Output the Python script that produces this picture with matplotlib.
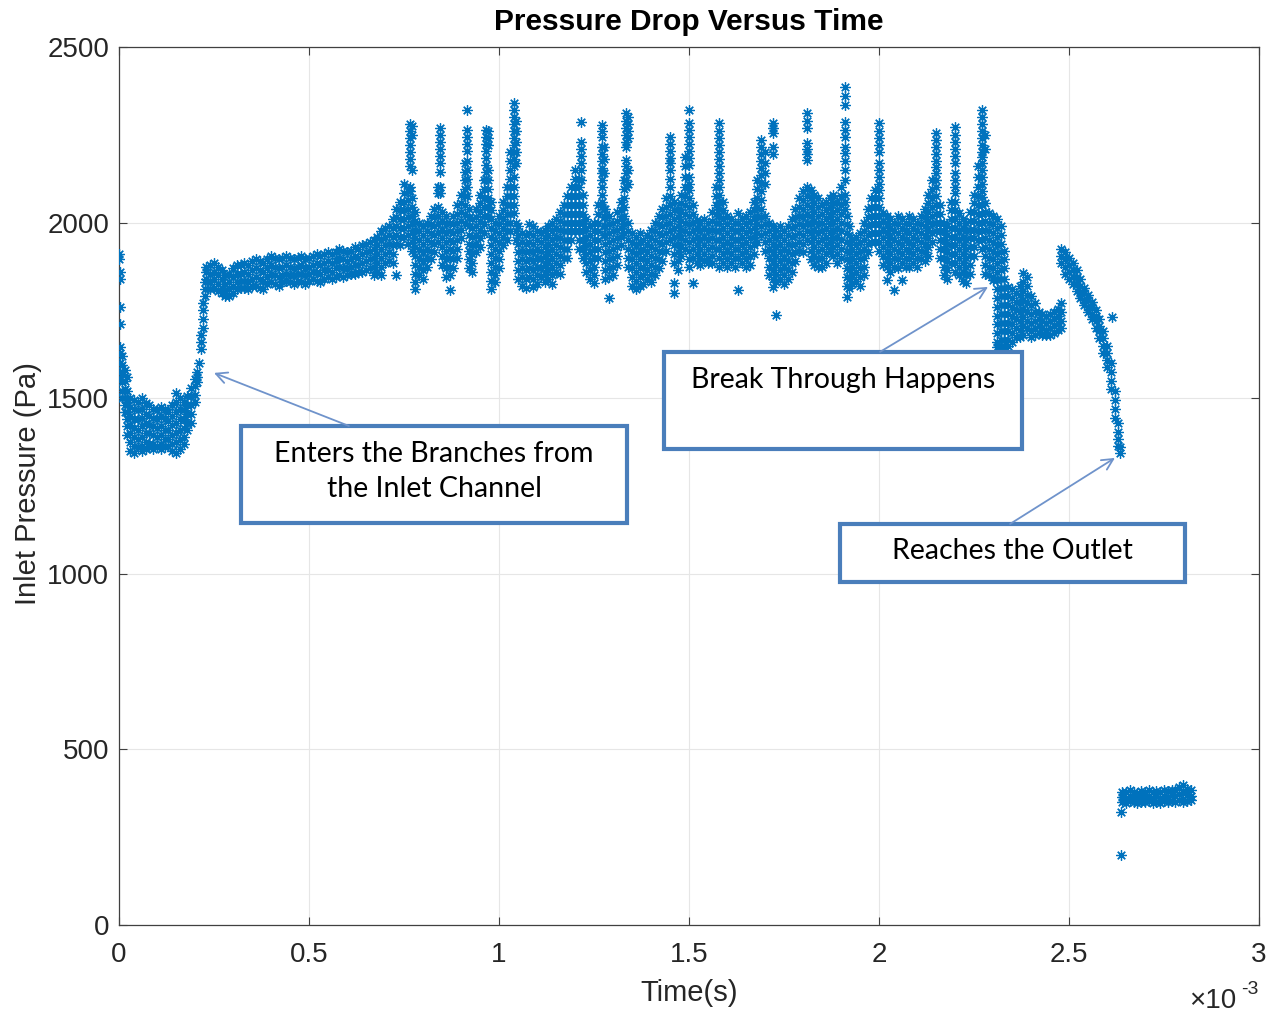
import matplotlib
matplotlib.use("Agg")
import matplotlib.pyplot as plt
from matplotlib.patches import Rectangle

plt.rcParams["font.family"] = ["Liberation Sans", "DejaVu Sans"]

MARK = "#0072BD"
BOX = "#4A7EBB"
ARROW = "#6F93CB"
INK = "#262626"

# time in ms, pressure in Pa; each time column holds the samples read at that time
inlet_t = [0.0, 0.003, 0.008, 0.015, 0.02, 0.03, 0.04, 0.05, 0.06, 0.07, 0.08,
           0.09, 0.10, 0.11, 0.12, 0.13, 0.14, 0.15, 0.16, 0.17, 0.18, 0.19,
           0.20, 0.205, 0.21, 0.215, 0.22, 0.225, 0.23]
inlet_p = [
    [1910, 1895],
    [1860, 1840, 1760, 1710, 1645, 1630, 1600, 1575, 1555],
    [1620, 1595, 1570, 1545, 1520, 1500],
    [1580, 1550, 1525, 1500, 1480, 1460],
    [1560, 1520, 1490, 1460, 1440, 1420, 1395],
    [1500, 1475, 1450, 1425, 1400, 1375, 1350],
    [1495, 1470, 1440, 1415, 1390, 1365, 1345],
    [1490, 1465, 1440, 1410, 1385, 1360],
    [1500, 1470, 1445, 1420, 1390, 1365, 1350],
    [1485, 1455, 1430, 1400, 1375, 1355],
    [1480, 1450, 1425, 1400, 1370, 1360],
    [1470, 1445, 1420, 1395, 1370, 1355],
    [1465, 1440, 1415, 1390, 1365],
    [1475, 1450, 1420, 1395, 1370, 1355],
    [1470, 1440, 1410, 1385, 1360],
    [1460, 1435, 1410, 1385, 1365],
    [1480, 1450, 1425, 1395, 1370, 1350],
    [1515, 1490, 1460, 1430, 1400, 1375, 1345],
    [1500, 1470, 1440, 1410, 1380, 1355],
    [1490, 1465, 1440, 1415, 1390, 1370],
    [1505, 1480, 1455, 1430, 1410],
    [1530, 1505, 1480, 1455, 1430],
    [1555, 1535, 1510, 1490],
    [1575, 1560, 1545],
    [1600],
    [1640, 1660, 1680],
    [1700, 1725, 1750, 1770],
    [1790, 1810, 1830],
    [1840, 1860, 1875],
]

branch_t = [0.24, 0.25, 0.26, 0.27, 0.28, 0.29, 0.30, 0.31, 0.32, 0.33, 0.34,
            0.35, 0.36, 0.37, 0.38, 0.39, 0.40, 0.41, 0.42, 0.43, 0.44, 0.45,
            0.46, 0.47, 0.48, 0.49, 0.50, 0.51, 0.52, 0.53, 0.54, 0.55, 0.56,
            0.57, 0.58, 0.59, 0.60, 0.61, 0.62, 0.63, 0.64, 0.65, 0.66]
branch_p = [
    [1880, 1855, 1830, 1810], [1885, 1860, 1840, 1815], [1875, 1850, 1825, 1805],
    [1865, 1840, 1815, 1800], [1850, 1825, 1805, 1790], [1855, 1830, 1810, 1790],
    [1870, 1845, 1820, 1800], [1880, 1855, 1830, 1810], [1880, 1855, 1835, 1815],
    [1885, 1860, 1835, 1815], [1880, 1855, 1830, 1810], [1890, 1865, 1840, 1820],
    [1895, 1870, 1845, 1820], [1890, 1865, 1840, 1815], [1885, 1860, 1835, 1810],
    [1895, 1870, 1845, 1825], [1905, 1880, 1855, 1830], [1900, 1875, 1850, 1825],
    [1895, 1870, 1845, 1820], [1900, 1875, 1850, 1830], [1905, 1880, 1855, 1835],
    [1900, 1875, 1850, 1830], [1895, 1870, 1850, 1825], [1900, 1875, 1855, 1835],
    [1905, 1880, 1855, 1830], [1895, 1870, 1850, 1825], [1900, 1875, 1855, 1835],
    [1905, 1880, 1860, 1840], [1910, 1885, 1860, 1835], [1905, 1880, 1855, 1830],
    [1910, 1885, 1865, 1840], [1915, 1890, 1865, 1845], [1910, 1885, 1860, 1840],
    [1915, 1890, 1870, 1845], [1925, 1900, 1875, 1850], [1920, 1895, 1870, 1845],
    [1915, 1890, 1870, 1850], [1920, 1895, 1875, 1855], [1930, 1905, 1880, 1855],
    [1925, 1900, 1880, 1860], [1935, 1910, 1885, 1860], [1940, 1915, 1890, 1865],
    [1945, 1920, 1895, 1870],
]

surge_t = [0.67, 0.68, 0.69, 0.70, 0.71, 0.72, 0.73, 0.74, 0.75, 0.76, 0.765,
           0.77, 0.78, 0.79, 0.80, 0.81, 0.82, 0.83, 0.84, 0.845, 0.85, 0.86,
           0.87, 0.88, 0.89, 0.90, 0.91, 0.915, 0.92, 0.93, 0.94, 0.95, 0.96,
           0.965, 0.97, 0.98, 0.99, 1.00, 1.01, 1.02, 1.03, 1.04, 1.045, 1.05,
           1.06, 1.07, 1.08, 1.09, 1.10, 1.11, 1.12, 1.13, 1.14, 1.15, 1.16,
           1.17, 1.18, 1.19, 1.20, 1.21, 1.215, 1.22, 1.23, 1.24, 1.25, 1.26,
           1.27, 1.275, 1.28, 1.29, 1.30, 1.31, 1.32, 1.33, 1.335, 1.34, 1.35,
           1.36, 1.37, 1.38, 1.39, 1.40, 1.41, 1.42, 1.43, 1.44, 1.45, 1.46,
           1.47, 1.48, 1.49]
surge_p = [
    [1950, 1925, 1900, 1875, 1850],
    [1960, 1935, 1910, 1885, 1860],
    [1975, 1950, 1925, 1900, 1875, 1850],
    [1985, 1960, 1935, 1910, 1885],
    [1990, 1965, 1940, 1915, 1890],
    [2010, 1985, 1960, 1935, 1910, 1885],
    [2040, 2015, 1990, 1965, 1940, 1850],
    [2060, 2035, 2010, 1985, 1960, 1935],
    [2110, 2085, 2060, 2035, 2010, 1985, 1960],
    [2090, 2065, 2040, 2015, 1990, 1965, 1940],
    [2280, 2260, 2240, 2220, 2200, 2180, 2160, 2100, 2090],
    [2275, 2250, 2150, 2070, 2045, 2020, 1995, 1970, 1945, 1920],
    [2030, 2005, 1980, 1955, 1930, 1905, 1880, 1855, 1830, 1810],
    [2000, 1975, 1950, 1925, 1900, 1875, 1850],
    [1990, 1965, 1940, 1915, 1890, 1865, 1840],
    [2000, 1975, 1950, 1925, 1900, 1875],
    [2020, 1995, 1970, 1945, 1920, 1895],
    [2040, 2015, 1990, 1965, 1940, 1915],
    [2100, 2085, 2044, 2020, 1995, 1970, 1945],
    [2270, 2250, 2230, 2210, 2190, 2170, 2145, 2100, 2085],
    [2030, 2005, 1980, 1955, 1930, 1905, 1880],
    [2020, 1995, 1970, 1945, 1920, 1895, 1870, 1845],
    [2000, 1975, 1950, 1925, 1900, 1875, 1850, 1808],
    [2020, 1995, 1970, 1945, 1920, 1895, 1870],
    [2050, 2025, 2000, 1975, 1950, 1925, 1900],
    [2080, 2055, 2030, 2005, 1980, 1955],
    [2170, 2145, 2120, 2095, 2075, 2050, 2025, 2000],
    [2320, 2265, 2245, 2225, 2205, 2175, 2150, 2125, 2100, 2075],
    [2040, 2015, 1990, 1965, 1940, 1920, 1895, 1870],
    [2010, 1985, 1960, 1935, 1910, 1885, 1860],
    [2040, 2015, 1990, 1965, 1940, 1915],
    [2080, 2055, 2030, 2005, 1980, 1955, 1930],
    [2120, 2095, 2070, 2045, 2020, 1995, 1970],
    [2265, 2245, 2225, 2205, 2185, 2165, 2145, 2125],
    [2260, 2240, 2220, 2150, 2120, 2095, 2070, 2045, 2020],
    [2060, 2035, 2010, 1985, 1960, 1935, 1910, 1885, 1860, 1835, 1810],
    [2000, 1975, 1950, 1925, 1900, 1875, 1850, 1830],
    [2020, 1995, 1970, 1945, 1920, 1895, 1870],
    [2060, 2035, 2010, 1985, 1960, 1935],
    [2100, 2075, 2050, 2025, 2000, 1975, 1950],
    [2200, 2175, 2150, 2125, 2100, 2075, 2050, 2025, 2000, 1975],
    [2340, 2320, 2300, 2280, 2260, 2240, 2220, 2200, 2180, 2160, 2130, 2100,
     2075, 2050, 2027],
    [2290, 2260, 2230, 2200, 2170, 2000, 1975, 1950],
    [1990, 1965, 1940, 1915, 1890, 1865, 1840],
    [1970, 1945, 1920, 1895, 1870, 1845, 1820],
    [1965, 1940, 1915, 1890, 1865, 1840, 1815],
    [1995, 1970, 1945, 1920, 1895, 1870, 1845],
    [1990, 1965, 1940, 1915, 1890, 1865, 1840, 1817],
    [1975, 1950, 1925, 1900, 1875, 1850, 1825],
    [1970, 1945, 1920, 1895, 1870, 1845],
    [1980, 1955, 1930, 1905, 1880, 1855, 1830],
    [1990, 1965, 1940, 1915, 1890, 1865, 1840],
    [2000, 1975, 1950, 1925, 1900, 1875, 1850, 1825],
    [2010, 1985, 1960, 1935, 1910, 1885, 1860],
    [2030, 2005, 1980, 1955, 1930, 1905, 1880, 1855],
    [2050, 2025, 2000, 1975, 1950, 1925, 1900],
    [2075, 2050, 2025, 2000, 1975, 1950, 1925, 1900],
    [2100, 2075, 2050, 2025, 2000, 1975, 1950],
    [2150, 2125, 2100, 2075, 2050, 2025, 2000, 1975],
    [2125, 2100, 2075, 2050, 2025, 2000, 1975, 1950, 1925],
    [2286, 2230, 2210, 2190, 2170, 2150, 2120],
    [2080, 2050, 2025, 2000, 1975, 1950, 1925, 1900],
    [2010, 1985, 1960, 1935, 1910, 1885, 1860],
    [1990, 1965, 1940, 1915, 1890, 1865, 1840],
    [2000, 1975, 1950, 1925, 1900, 1875, 1850, 1828],
    [2050, 2025, 2000, 1975, 1950, 1925, 1900],
    [2278, 2260, 2245, 2215, 2195, 2175, 2155, 2140, 2120, 2100, 2080, 2060, 2044],
    [2215, 2180, 2140, 2040, 2015, 1990, 1965],
    [2040, 2015, 1990, 1965, 1940, 1915, 1890, 1865, 1840],
    [2020, 1995, 1970, 1945, 1920, 1895, 1870, 1845, 1785],
    [2000, 1975, 1950, 1925, 1900, 1875, 1850],
    [2030, 2005, 1980, 1955, 1930, 1905, 1880],
    [2060, 2035, 2010, 1985, 1960, 1935],
    [2120, 2095, 2070, 2045, 2020, 1995, 1970],
    [2312, 2290, 2270, 2250, 2230, 2215, 2178, 2160, 2140, 2120, 2100],
    [2300, 2280, 2260, 2240, 2150, 2110, 2000, 1975, 1950, 1925, 1900, 1875],
    [1970, 1945, 1920, 1895, 1870, 1845, 1820],
    [1960, 1935, 1910, 1885, 1860, 1835, 1810],
    [1970, 1945, 1920, 1895, 1870, 1845, 1820],
    [1950, 1925, 1900, 1875, 1850, 1825],
    [1965, 1940, 1915, 1890, 1865, 1840],
    [1980, 1955, 1930, 1905, 1880, 1855, 1830],
    [2000, 1975, 1950, 1925, 1900, 1875, 1850],
    [2020, 1995, 1970, 1945, 1920, 1895, 1870],
    [2040, 2015, 1990, 1965, 1940, 1915, 1890],
    [2070, 2045, 2020, 1995, 1970, 1945, 1920],
    [2244, 2225, 2205, 2185, 2170, 2150, 2125, 2100, 2075, 2050, 2025, 2000,
     1975, 1950],
    [2060, 2035, 2010, 1985, 1960, 1935, 1910, 1885, 1828, 1800],
    [2040, 2015, 1990, 1965, 1940, 1915, 1890, 1865],
    [2080, 2055, 2030, 2005, 1980, 1955, 1930, 1905],
    [2187, 2160, 2130, 2100, 2075, 2050, 2025, 2000, 1975, 1950, 1925],
]

burst_t = [1.50, 1.51, 1.52, 1.53, 1.54, 1.55, 1.56, 1.57, 1.58, 1.59, 1.60,
           1.61, 1.62, 1.63, 1.64, 1.65, 1.66, 1.67, 1.68, 1.69, 1.70, 1.71,
           1.72, 1.73, 1.74, 1.75, 1.76, 1.77, 1.78, 1.79, 1.80, 1.81, 1.82,
           1.83, 1.84, 1.85, 1.86, 1.87, 1.88, 1.89, 1.90, 1.91, 1.915, 1.92,
           1.93, 1.94, 1.95, 1.96, 1.97, 1.98, 1.99, 2.00, 2.01, 2.02, 2.03,
           2.04, 2.05, 2.06, 2.07, 2.08, 2.09, 2.10, 2.11, 2.12, 2.13, 2.14,
           2.15, 2.16, 2.17, 2.18, 2.19, 2.20, 2.21, 2.22, 2.23, 2.24, 2.25,
           2.26, 2.27, 2.28, 2.29, 2.30, 2.31, 2.32, 2.33, 2.34, 2.35, 2.36,
           2.37, 2.38, 2.39, 2.40, 2.41, 2.42, 2.43, 2.44, 2.45, 2.46, 2.47]
burst_p = [
    [2320, 2283, 2265, 2245, 2225, 2205, 2185, 2165, 2130, 2110, 2093, 2070,
     2044, 2020, 1995, 1970, 1945, 1920, 1895, 1873],
    [2050, 2025, 2000, 1975, 1950, 1925, 1900, 1828],
    [2007, 1985, 1960, 1935, 1910, 1885],
    [2000, 1975, 1950, 1925, 1900, 1880],
    [2010, 1985, 1960, 1935, 1910, 1890],
    [2000, 1975, 1950, 1925, 1900, 1885],
    [2030, 2005, 1980, 1955, 1930, 1905, 1885],
    [2100, 2075, 2050, 2025, 2000, 1975, 1950, 1925],
    [2283, 2260, 2240, 2220, 2200, 2180, 2160, 2140, 2120, 2101, 2080, 2060,
     2040, 2020, 2000, 1975, 1950, 1925, 1900, 1875],
    [2060, 2035, 2010, 1985, 1960, 1935, 1910, 1885],
    [2020, 1995, 1970, 1945, 1920, 1895, 1873],
    [2010, 1985, 1960, 1935, 1910, 1885],
    [2000, 1975, 1950, 1925, 1900, 1875],
    [2027, 2000, 1975, 1950, 1925, 1900, 1808],
    [2010, 1985, 1960, 1935, 1910, 1885],
    [2020, 1995, 1970, 1945, 1920, 1895, 1873],
    [2030, 2005, 1980, 1955, 1930, 1905, 1880],
    [2060, 2035, 2010, 1985, 1960, 1935, 1910],
    [2120, 2095, 2070, 2045, 2020, 1995, 1970, 1945],
    [2235, 2215, 2195, 2175, 2155, 2135, 2113, 2090, 2065, 2040, 2015, 1990, 1965],
    [2200, 2170, 2140, 2110, 2020, 1995, 1970, 1945, 1920],
    [1998, 1975, 1950, 1925, 1900, 1875, 1850],
    [2283, 2270, 2255, 2215, 2195, 1990, 1965, 1940, 1915, 1890, 1865, 1840, 1817],
    [1980, 1955, 1930, 1905, 1880, 1855, 1830, 1737],
    [1990, 1965, 1940, 1915, 1890, 1865, 1840],
    [1975, 1950, 1925, 1900, 1875, 1850, 1825],
    [1990, 1965, 1940, 1915, 1890, 1865, 1840],
    [2010, 1985, 1960, 1935, 1910, 1885, 1860],
    [2040, 2015, 1990, 1965, 1940, 1915, 1890],
    [2070, 2045, 2020, 1995, 1970, 1945, 1920],
    [2090, 2065, 2040, 2015, 1990, 1965, 1940, 1915],
    [2312, 2290, 2270, 2227, 2210, 2195, 2178, 2100, 2075, 2050, 2025, 2000,
     1975, 1950],
    [2093, 2070, 2045, 2020, 1995, 1970, 1945, 1920, 1895],
    [2080, 2055, 2030, 2005, 1980, 1955, 1930, 1905, 1880],
    [2070, 2045, 2020, 1995, 1970, 1945, 1920, 1895, 1873],
    [2050, 2025, 2000, 1975, 1950, 1925, 1900, 1875],
    [2060, 2035, 2010, 1985, 1960, 1935, 1910, 1885],
    [2070, 2045, 2020, 1995, 1970, 1945, 1920],
    [2080, 2055, 2030, 2005, 1980, 1955, 1930, 1905],
    [2060, 2035, 2010, 1985, 1960, 1935, 1910, 1885],
    [2100, 2075, 2050, 2025, 2000, 1975, 1950, 1925, 1900],
    [2386, 2360, 2335, 2286, 2265, 2245, 2215, 2198, 2175, 2150, 2121, 2080,
     2060, 2040],
    [2020, 1995, 1970, 1945, 1920, 1895, 1870, 1845, 1820, 1788],
    [1990, 1965, 1940, 1915, 1890, 1865, 1840, 1815],
    [1950, 1925, 1900, 1875, 1850, 1825],
    [1960, 1935, 1910, 1885, 1860, 1835],
    [1970, 1945, 1920, 1895, 1870, 1845, 1820],
    [2000, 1975, 1950, 1925, 1900, 1875, 1850],
    [2040, 2015, 1990, 1965, 1940, 1915],
    [2070, 2045, 2020, 1995, 1970, 1945],
    [2093, 2070, 2045, 2020, 1995, 1970, 1945],
    [2283, 2260, 2240, 2220, 2200, 2170, 2150, 2130, 2110, 2093, 2070, 2045,
     2020, 1995, 1970, 1945, 1920],
    [2027, 2005, 1980, 1955, 1930, 1905, 1880],
    [2020, 1995, 1970, 1945, 1920, 1895, 1873, 1836],
    [2010, 1985, 1960, 1935, 1910, 1885, 1860],
    [2000, 1975, 1950, 1925, 1900, 1875, 1808],
    [2020, 1995, 1970, 1945, 1920, 1895, 1870],
    [2010, 1985, 1960, 1935, 1910, 1885, 1836],
    [2000, 1975, 1950, 1925, 1900, 1875],
    [2020, 1995, 1970, 1945, 1920, 1895, 1873],
    [2010, 1985, 1960, 1935, 1910, 1885],
    [2000, 1975, 1950, 1925, 1900, 1875],
    [2020, 1995, 1970, 1945, 1920, 1895],
    [2040, 2015, 1990, 1965, 1940, 1915, 1890],
    [2080, 2055, 2030, 2005, 1980, 1955, 1930, 1905],
    [2120, 2095, 2070, 2045, 2020, 1995, 1970, 1945],
    [2255, 2235, 2215, 2195, 2175, 2158, 2140, 2120, 2100, 2075, 2050, 2025,
     2000, 1975],
    [2050, 2025, 2000, 1975, 1950, 1925, 1900],
    [2000, 1975, 1950, 1925, 1900, 1875, 1850],
    [1990, 1965, 1940, 1915, 1890, 1865, 1840],
    [2060, 2035, 2010, 1985, 1960, 1935, 1910, 1885],
    [2272, 2250, 2230, 2210, 2190, 2170, 2141, 2120, 2100, 2084, 2060, 2035,
     2010, 1985, 1960, 1935, 1910, 1885, 1860],
    [2027, 2000, 1975, 1950, 1925, 1900, 1875, 1850],
    [2010, 1985, 1960, 1935, 1910, 1885, 1860, 1835],
    [2000, 1975, 1950, 1925, 1900, 1875, 1850, 1828],
    [2030, 2005, 1980, 1955, 1930, 1905, 1880, 1855],
    [2080, 2055, 2030, 2005, 1980, 1955, 1930, 1905],
    [2160, 2130, 2100, 2075, 2050, 2025, 2000, 1975, 1950],
    [2320, 2300, 2280, 2260, 2240, 2220, 2200, 2187, 2170, 2150, 2130, 2110,
     2090, 2073, 2050, 2025, 2000, 1975, 1950, 1925],
    [2250, 2210, 2056, 2030, 2005, 1980, 1955, 1930, 1905, 1880, 1855],
    [2027, 2000, 1975, 1950, 1925, 1900, 1875, 1850],
    [2020, 1995, 1970, 1945, 1920, 1895, 1870, 1845, 1836],
    [2010, 1985, 1960, 1935, 1910, 1885, 1860, 1836, 1810, 1785, 1760, 1735,
     1710, 1685, 1660, 1646],
    [1990, 1965, 1940, 1915, 1890, 1865, 1840, 1815, 1790, 1765, 1740, 1715,
     1690, 1665, 1640],
    [1920, 1895, 1870, 1840, 1815, 1790, 1765, 1740, 1715, 1690, 1665, 1650],
    [1817, 1790, 1765, 1740, 1715, 1690, 1665, 1650],
    [1810, 1785, 1760, 1735, 1710, 1685, 1660],
    [1800, 1775, 1750, 1725, 1700, 1675],
    [1820, 1795, 1770, 1745, 1720, 1695, 1675],
    [1856, 1830, 1805, 1780, 1755, 1730, 1705, 1680],
    [1845, 1820, 1795, 1770, 1745, 1720, 1700],
    [1790, 1765, 1740, 1715, 1690, 1675],
    [1770, 1745, 1720, 1700, 1680],
    [1745, 1725, 1705, 1685],
    [1740, 1720, 1700, 1680],
    [1735, 1715, 1695, 1680],
    [1740, 1720, 1700, 1680],
    [1745, 1725, 1705, 1685],
    [1755, 1735, 1715, 1695],
]

outlet_t = [2.48, 2.49, 2.50, 2.51, 2.52, 2.53, 2.54, 2.55, 2.56, 2.57, 2.58,
            2.59, 2.60, 2.61, 2.613, 2.62, 2.63, 2.635]
outlet_p = [
    [1925, 1905, 1885, 1770, 1745, 1720, 1700],
    [1915, 1895, 1875, 1855],
    [1900, 1880, 1860, 1840],
    [1885, 1865, 1845, 1825],
    [1865, 1845, 1825, 1805],
    [1840, 1820, 1800, 1785],
    [1815, 1800, 1780, 1765],
    [1795, 1780, 1760, 1745],
    [1775, 1760, 1740, 1725],
    [1750, 1735, 1720, 1700],
    [1725, 1705, 1690, 1670],
    [1690, 1670, 1650, 1630],
    [1650, 1630, 1610, 1590],
    [1600, 1575, 1550, 1525],
    [1731],
    [1520, 1495, 1470, 1445],
    [1430, 1405, 1385, 1365],
    [1360, 1345],
]

exit_t = [2.638, 2.64, 2.65, 2.66, 2.67, 2.68, 2.69, 2.70, 2.71, 2.72, 2.73,
          2.74, 2.75, 2.76, 2.77, 2.78, 2.79, 2.80, 2.81, 2.82]
exit_p = [
    [322, 199],
    [380, 365, 350], [378, 362, 348], [383, 368, 352], [380, 364, 350],
    [376, 360, 346], [382, 366, 350], [380, 364, 349], [384, 368, 352],
    [380, 363, 348], [382, 366, 351], [378, 362, 347], [384, 368, 352],
    [381, 365, 350], [385, 369, 353], [383, 367, 351], [392, 372, 356],
    [398, 378, 360, 350], [386, 370, 354], [384, 368, 355],
]


def columns(ts, ps):
    assert len(ts) == len(ps), (len(ts), len(ps))
    xs, ys = [], []
    for t, col in zip(ts, ps):
        xs.extend([t] * len(col))
        ys.extend(col)
    return xs, ys


W, H = 1266, 1014
fig = plt.figure(figsize=(W / 100, H / 100), dpi=100, facecolor="white")
ax = fig.add_axes([119 / W, 1 - 925 / H, 1140 / W, 878 / H])

for ts, ps in [(inlet_t, inlet_p), (branch_t, branch_p), (surge_t, surge_p),
               (burst_t, burst_p), (outlet_t, outlet_p), (exit_t, exit_p)]:
    x, y = columns(ts, ps)
    ax.plot(x, y, linestyle="none", marker=(8, 2, 0), markersize=7.5,
            markeredgewidth=0.9, color=MARK, zorder=3)

ax.set_xlim(0, 3)
ax.set_ylim(0, 2500)
ax.set_xticks([0, 0.5, 1, 1.5, 2, 2.5, 3])
ax.set_xticklabels(["0", "0.5", "1", "1.5", "2", "2.5", "3"])
ax.set_yticks([0, 500, 1000, 1500, 2000, 2500])
ax.grid(True, color="#e6e6e6", linewidth=0.8, zorder=0)
ax.set_axisbelow(True)
ax.tick_params(direction="in", top=True, right=True, length=6, width=0.8,
               color="#404040", labelsize=20, labelcolor=INK, pad=7)
ax.tick_params(axis="x", pad=12)
for sp in ax.spines.values():
    sp.set_color("#404040")
    sp.set_linewidth(0.9)

fig.text(689 / W, 1 - 22 / H, "Pressure Drop Versus Time", ha="center",
         va="center", fontsize=21.5, fontweight="bold", color="black")
fig.text(689 / W, 1 - 993 / H, "Time(s)", ha="center", va="center",
         fontsize=21, color=INK)
fig.text(28 / W, 1 - 484 / H, "Inlet Pressure (Pa)", ha="center",
         va="center", rotation=90, fontsize=21, color=INK)
fig.text(1189 / W, 1 - 1001 / H, "\u00d710", ha="left", va="center",
         fontsize=20, color=INK)
fig.text(1241 / W, 1 - 989 / H, "-3", ha="left", va="center",
         fontsize=14, color=INK)

# annotation boxes (data coordinates: ms, Pa)
note_font = dict(family=["Lato", "DejaVu Sans"], fontsize=20.5, color="black")
boxes = [
    ((0.321, 1145), 1.016, 276, (0.829, 1292), "Enters the Branches from\nthe Inlet Channel"),
    ((1.434, 1355), 0.942, 277, (1.905, 1552), "Break Through Happens"),
    ((1.897, 977), 0.908, 165, (2.350, 1065), "Reaches the Outlet"),
]
for (x0, y0), w, h, (tx, ty), label in boxes:
    ax.add_patch(Rectangle((x0, y0), w, h, facecolor="white", edgecolor=BOX,
                           linewidth=3, zorder=5, clip_on=False))
    ax.text(tx, ty, label, ha="center", va="center", linespacing=1.45,
            zorder=6, **note_font)

arrows = [((0.250, 1572), (0.605, 1421)),
          ((2.287, 1817), (2.003, 1632)),
          ((2.621, 1330), (2.345, 1142))]
for tip, tail in arrows:
    ax.annotate("", xy=tip, xytext=tail, zorder=6,
                arrowprops=dict(arrowstyle="->,head_length=0.8,head_width=0.4",
                                color=ARROW, lw=1.3, shrinkA=0, shrinkB=0))

fig.savefig("out.png", dpi=100, facecolor="white")
